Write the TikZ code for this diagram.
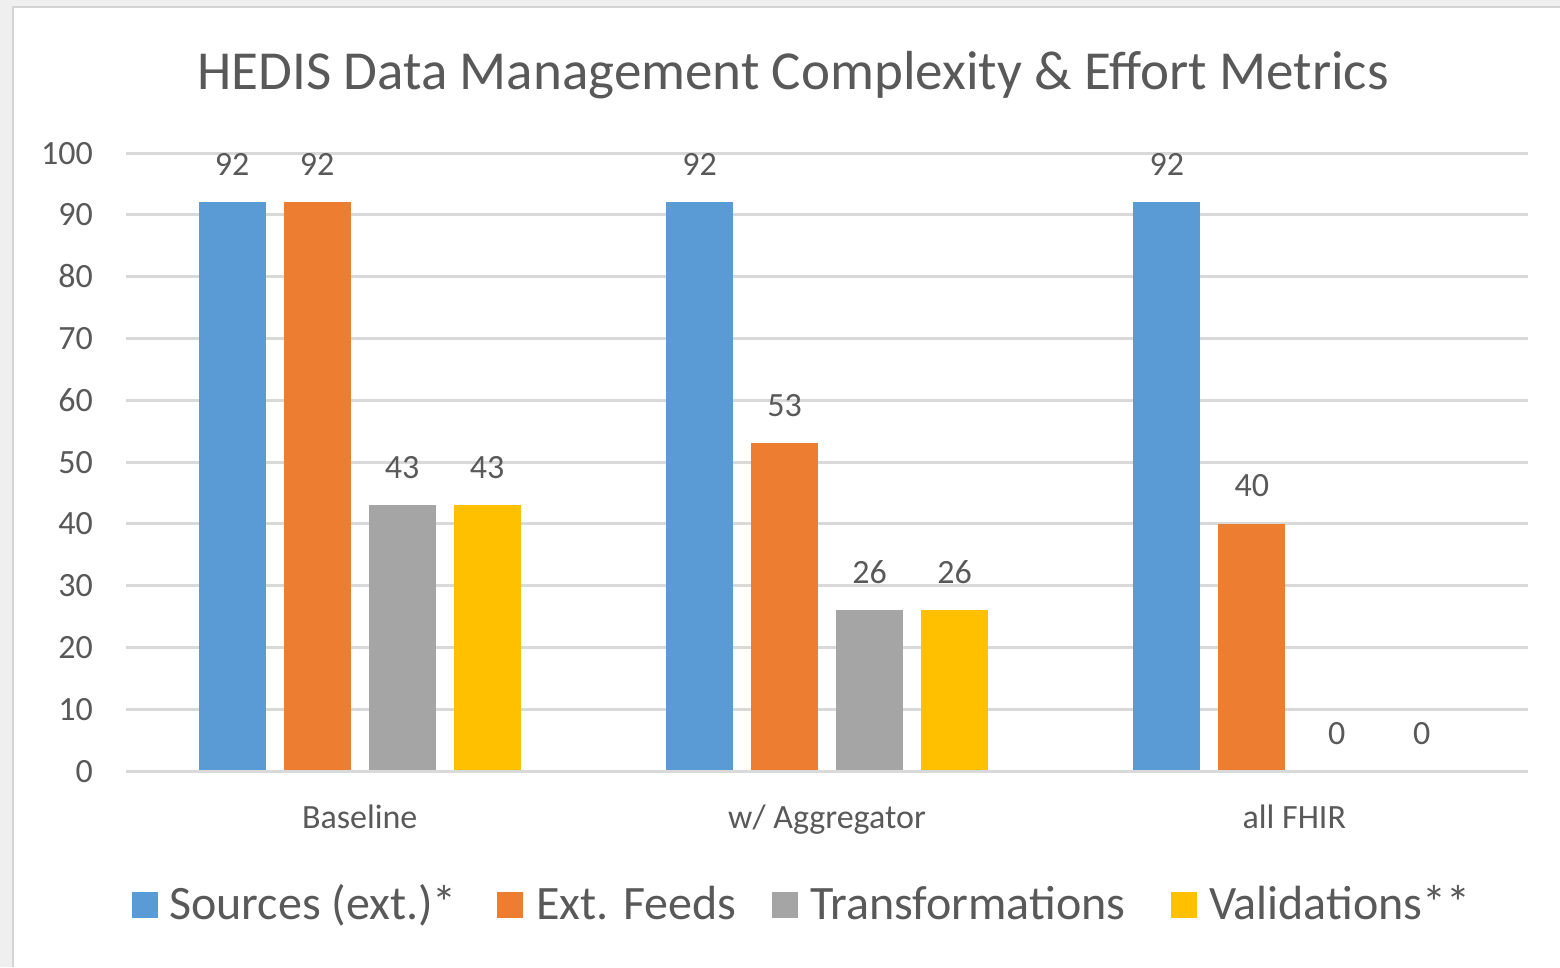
\documentclass[tikz,border=0pt]{standalone}
\usepackage{fontspec}
\setmainfont{Carlito}
\definecolor{sblue}{HTML}{5B9BD5}
\definecolor{sorange}{HTML}{ED7D31}
\definecolor{sgray}{HTML}{A5A5A5}
\definecolor{syellow}{HTML}{FFC000}
\definecolor{txt}{HTML}{595959}
\definecolor{gridc}{HTML}{D9D9D9}
\definecolor{framebg}{HTML}{EFEFEF}
\definecolor{frameline}{HTML}{D4D4D4}
\tikzset{
  gridline/.style={draw=gridc, line width=3pt},
  ticklbl/.style={text=txt, font=\fontsize{34}{40}\selectfont, inner sep=0pt, anchor=base east},
  vallbl/.style={text=txt, font=\fontsize{34}{40}\selectfont, inner sep=0pt, anchor=base},
  catlbl/.style={text=txt, font=\fontsize{34}{40}\selectfont, inner sep=0pt, anchor=base},
  leglbl/.style={text=txt, font=\fontsize{48}{54}\selectfont, inner sep=0pt, anchor=base west},
  legsq/.style={minimum width=26pt, minimum height=26pt, inner sep=0pt, anchor=north west},
  titlelbl/.style={text=txt, font=\fontsize{55}{62}\selectfont, inner sep=0pt, anchor=base}
}
\begin{document}
\begin{tikzpicture}[x=1pt,y=-1pt]
\useasboundingbox (0,0) rectangle (1560,967);
\fill[framebg] (0,0) rectangle (1560,967);
\fill[white] (14,8) rectangle (1560,967);
\draw[frameline, line width=2pt] (13,967) -- (13,7) -- (1560,7);
% title
\node[titlelbl] (title) at (793,89) {HEDIS Data Management Complexity \& Effort Metrics};
% grid and ticks
\foreach \v in {0,10,...,100}{
  \draw[gridline] (126,{771-6.18*\v}) -- (1528,{771-6.18*\v});
  \node[ticklbl] (tick\v) at (93,{771-6.18*\v+11}) {\v};
}
% bars
\foreach \g/\s/\val/\col in {0/0/92/sblue,0/1/92/sorange,0/2/43/sgray,0/3/43/syellow,
                            1/0/92/sblue,1/1/53/sorange,1/2/26/sgray,1/3/26/syellow,
                            2/0/92/sblue,2/1/40/sorange,2/2/0/sgray,2/3/0/syellow}{
  \pgfmathsetmacro{\xc}{126+467.33*(\g+0.5)+85*(\s-1.5)}
  \pgfmathsetmacro{\yt}{771-6.18*\val}
  \ifnum\val>0
    \fill[\col] (\xc-33.5,770) rectangle (\xc+33.5,\yt);
  \fi
  \node[vallbl] (v\g\s) at (\xc,\yt-27) {\val};
}
% categories
\node[catlbl] (cat0) at (359.7,828) {Baseline};
\node[catlbl] (cat1) at (827,828) {w/ Aggregator};
\node[catlbl] (cat2) at (1294.3,828) {all FHIR};
% legend
\node[legsq, fill=sblue] (sq1) at (132,892) {};
\node[leglbl] (l1) at (169,919) {Sources (ext.)*};
\node[legsq, fill=sorange] (sq2) at (497,892) {};
\node[leglbl] (l2) at (536,919) {Ext. Feeds};
\node[legsq, fill=sgray] (sq3) at (772,892) {};
\node[leglbl] (l3) at (810,919) {Transformations};
\node[legsq, fill=syellow] (sq4) at (1171,892) {};
\node[leglbl] (l4) at (1209,919) {Validations**};
\end{tikzpicture}
\end{document}
